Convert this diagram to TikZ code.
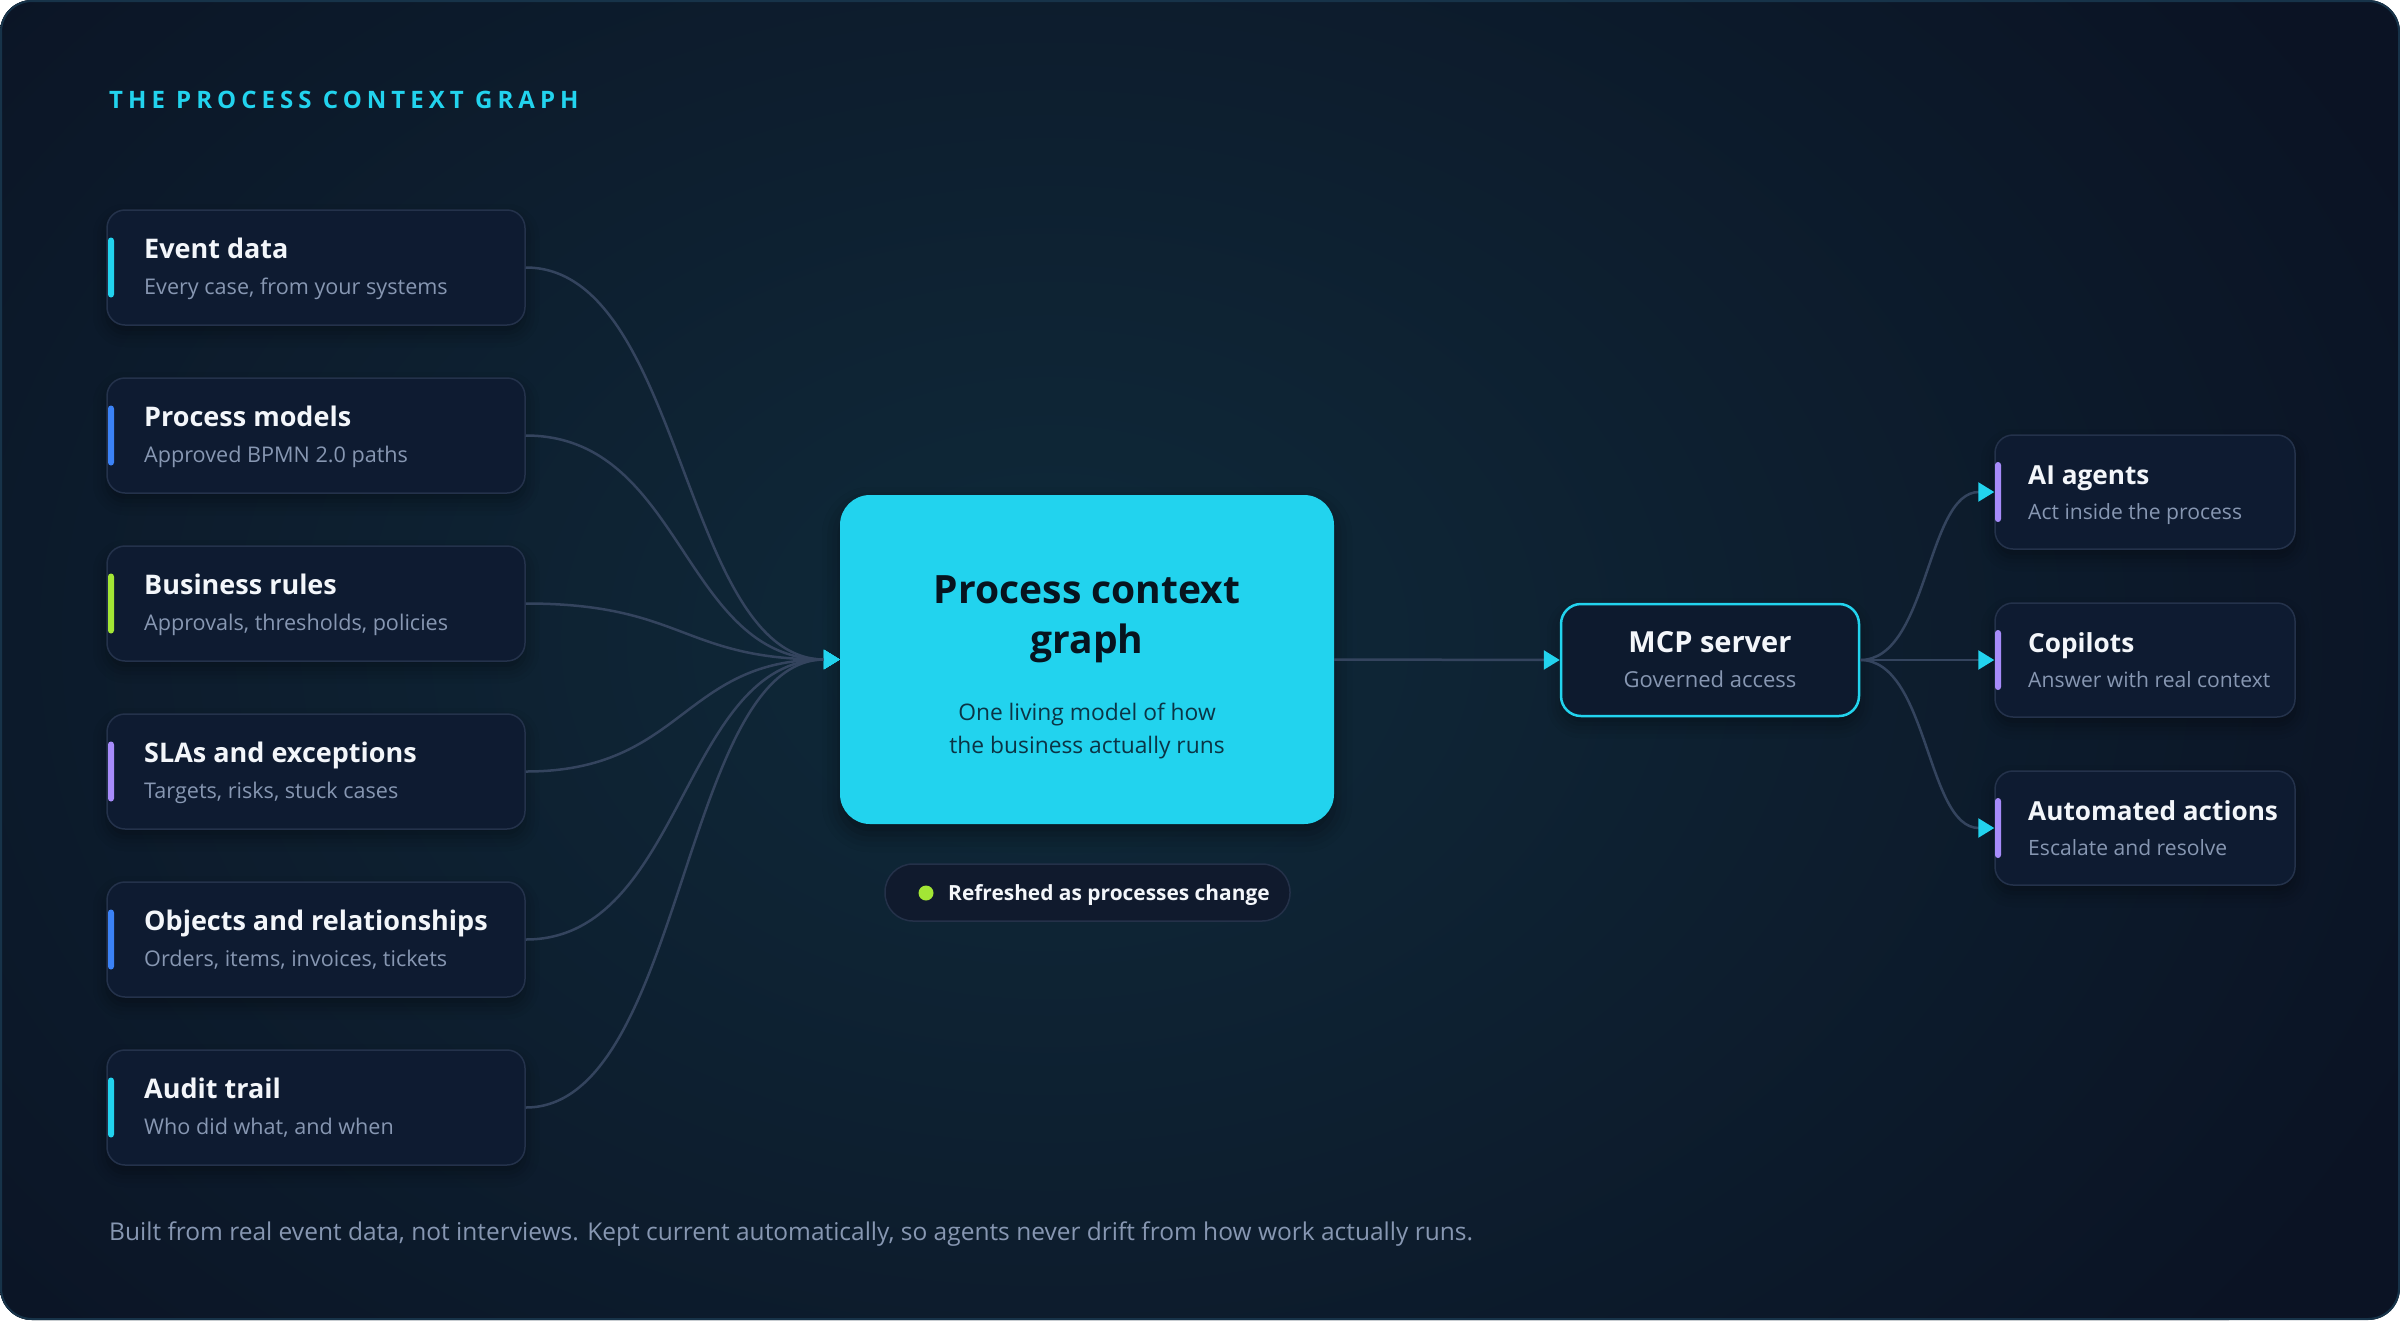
\documentclass[tikz,border=0pt]{standalone}
\usepackage{fontspec}
\setmainfont{Open Sans}
\newfontfamily\spacedfont[LetterSpace=21]{Open Sans}
\usetikzlibrary{arrows.meta,shadows.blur}
\definecolor{bgc}{HTML}{0B1324}
\definecolor{glowc}{HTML}{0F2A3A}
\definecolor{framec}{HTML}{173349}
\definecolor{cardfill}{HTML}{0E1B31}
\definecolor{cardborder}{HTML}{24324B}
\definecolor{titlec}{HTML}{F3F6FA}
\definecolor{subc}{HTML}{8797B2}
\definecolor{cyanc}{HTML}{22D3EE}
\definecolor{bluec}{HTML}{3B82F6}
\definecolor{limec}{HTML}{A3E635}
\definecolor{purplec}{HTML}{A78BFA}
\definecolor{connc}{HTML}{34445E}
\definecolor{darkc}{HTML}{07141F}
\definecolor{darksub}{HTML}{0B3445}
\definecolor{pillfill}{HTML}{101A2D}
\definecolor{pillborder}{HTML}{243149}
\definecolor{mcpfill}{HTML}{0D1A2E}
\tikzset{
  card/.style={draw=cardborder, line width=1.5pt, fill=cardfill, rounded corners=18pt, inner sep=0pt,
    blur shadow={shadow xshift=0pt, shadow yshift=-8pt, shadow blur radius=14pt, shadow opacity=35}},
  lcardbox/.style={card, minimum width=418pt, minimum height=115pt},
  rcardbox/.style={card, minimum width=300pt, minimum height=114pt},
  ttl/.style={font=\fontsize{27}{32}\selectfont\bfseries, text=titlec, inner sep=0pt},
  rttl/.style={font=\fontsize{26.2}{31}\selectfont\bfseries, text=titlec, inner sep=0pt},
  lsub/.style={font=\fontsize{21.6}{26}\selectfont, text=subc, inner sep=0pt},
  rsub/.style={font=\fontsize{21.1}{26}\selectfont, text=subc, inner sep=0pt},
  conn/.style={draw=connc, line width=2.5pt},
  arr/.style={-{Triangle[length=16pt,width=19pt,color=cyanc]}}
}
\newcommand{\lcard}[5]{%
  \node[lcardbox] (#1) at (316,#2) {};
  \fill[#3, rounded corners=3pt] (108,#2-30) rectangle (114,#2+30);
  \node[ttl, anchor=base west] (#1t) at (144,#2-9) {#4};
  \node[lsub, anchor=base west] (#1s) at (144,#2+27) {#5};
}
\newcommand{\rcard}[5]{%
  \node[rcardbox] (#1) at (2145,#2) {};
  \fill[#3, rounded corners=3pt] (1995,#2-30) rectangle (2001,#2+30);
  \node[rttl, anchor=base west] (#1t) at (2028,#2-8) {#4};
  \node[rsub, anchor=base west] (#1s) at (2028,#2+27) {#5};
}
\begin{document}
\begin{tikzpicture}[x=1pt,y=-1pt]
\useasboundingbox (0,0) rectangle (2400,1320);
\begin{scope}
  \clip[rounded corners=32pt] (0,0) rectangle (2400,1320);
  \fill[bgc] (0,0) rectangle (2400,1320);
  \shade[inner color=glowc, outer color=bgc] (1050,640) ellipse (1500 and 1100);
\end{scope}
\draw[framec, line width=2pt, rounded corners=31pt] (1,1) rectangle (2399,1319);

\node[font=\spacedfont\fontsize{24}{28}\selectfont\bfseries, text=cyanc, anchor=base west, inner sep=0pt] (head) at (109,108) {THE PROCESS CONTEXT GRAPH};

% left cards
\lcard{ev}{267.5}{cyanc}{Event data}{Every case, from your systems}
\lcard{pm}{435.5}{bluec}{Process models}{Approved BPMN 2.0 paths}
\lcard{br}{603.5}{limec}{Business rules}{Approvals, thresholds, policies}
\lcard{sla}{771.5}{purplec}{SLAs and exceptions}{Targets, risks, stuck cases}
\lcard{obj}{939.5}{bluec}{Objects and relationships}{Orders, items, invoices, tickets}
\lcard{aud}{1107.5}{cyanc}{Audit trail}{Who did what, and when}

% central node
\node[fill=cyanc, rounded corners=30pt, minimum width=494pt, minimum height=329pt, inner sep=0pt,
  blur shadow={shadow xshift=0pt, shadow yshift=-10pt, shadow blur radius=18pt, shadow opacity=40}] (pcg) at (1087,659.5) {};
\node[font=\fontsize{39}{46}\selectfont\bfseries, text=darkc, anchor=base, inner sep=0pt] (pcgt1) at (1087,603) {Process context};
\node[font=\fontsize{39}{46}\selectfont\bfseries, text=darkc, anchor=base, inner sep=0pt] (pcgt2) at (1087,653) {graph};
\node[font=\fontsize{22.8}{27}\selectfont, text=darksub, anchor=base, inner sep=0pt] (pcgs1) at (1087,720) {One living model of how};
\node[font=\fontsize{22.8}{27}\selectfont, text=darksub, anchor=base, inner sep=0pt] (pcgs2) at (1087,753) {the business actually runs};

% pill
\node[draw=pillborder, line width=1.5pt, fill=pillfill, rounded corners=28pt, minimum width=405pt, minimum height=57pt, inner sep=0pt] (pill) at (1087.5,892.5) {};
\fill[limec] (926,893) circle (7.5);
\node[font=\fontsize{20.9}{25}\selectfont\bfseries, text=titlec, anchor=base west, inner sep=0pt] (pillt) at (948,900) {Refreshed as processes change};

% MCP server
\node[draw=cyanc, line width=2.5pt, fill=mcpfill, rounded corners=20pt, minimum width=298pt, minimum height=112pt, inner sep=0pt,
  blur shadow={shadow xshift=0pt, shadow yshift=-8pt, shadow blur radius=14pt, shadow opacity=35}] (mcp) at (1710,660) {};
\node[font=\fontsize{29}{34}\selectfont\bfseries, text=titlec, inner sep=0pt, anchor=base] (mcpt) at (1710,652) {MCP server};
\node[font=\fontsize{22}{26}\selectfont, text=subc, inner sep=0pt, anchor=base] (mcps) at (1710,687) {Governed access};

% right cards
\rcard{ai}{492}{purplec}{AI agents}{Act inside the process}
\rcard{cop}{660}{purplec}{Copilots}{Answer with real context}
\rcard{auto}{828}{purplec}{Automated actions}{Escalate and resolve}

% connectors
\foreach \n in {ev,pm,br,sla,obj,aud}{
  \draw[conn,arr] (\n.east) .. controls +(158,0) and +(-158,0) .. (pcg.west);
}
\draw[conn,arr] (pcg.east) -- (mcp.west);
\draw[conn,arr] (mcp.east) .. controls +(68,0) and +(-68,0) .. (ai.west);
\draw[conn,arr] (mcp.east) -- (cop.west);
\draw[conn,arr] (mcp.east) .. controls +(68,0) and +(-68,0) .. (auto.west);

\node[font=\fontsize{24.5}{29}\selectfont, text=subc, anchor=base west, inner sep=0pt] (foot) at (109,1240.5) {Built from real event data, not interviews. Kept current automatically, so agents never drift from how work actually runs.};
\end{tikzpicture}
\end{document}
